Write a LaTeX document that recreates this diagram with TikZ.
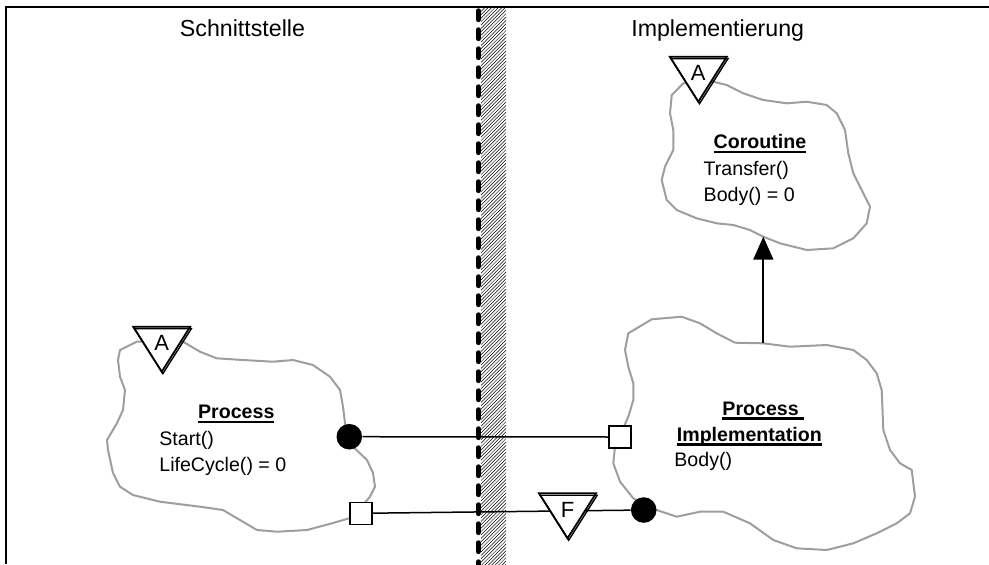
\documentclass[tikz,border=0pt]{standalone}
\usepackage{fontspec}
\setmainfont{Liberation Sans}
\usetikzlibrary{arrows.meta}

\definecolor{cloudgray}{gray}{0.62}
% bold class name with a heavy underline
\newcommand{\clsname}[1]{\setbox0\hbox{\bfseries #1}\rlap{\rule[-2.3pt]{\wd0}{1.1pt}}\box0}

\begin{document}
\begin{tikzpicture}
  [x=0.5pt,y=-0.5pt,
   sidetitle/.style={font=\fontsize{11.6}{14}\selectfont,inner sep=0pt,anchor=base},
   clsline/.style={font=\fontsize{9.8}{12}\selectfont,inner sep=0pt,anchor=base},
   opline/.style={font=\fontsize{9.8}{12}\selectfont,inner sep=0pt,anchor=base west},
   cloudedge/.style={draw=cloudgray,line width=1pt,line join=round},
   port/.style={draw,fill=white,line width=0.75pt,minimum size=11pt,inner sep=0pt},
   plug/.style={circle,fill=black,minimum size=12.8pt,inner sep=0pt},
   wire/.style={line width=0.75pt},
   tagedge/.style={line width=0.9pt,line join=miter},
   tagtext/.style={font=\fontsize{11}{13}\selectfont,inner sep=0pt}]
  \useasboundingbox (0,0) rectangle (989,564);

  % frame
  \draw[line width=1pt] (6,564) -- (6,7) -- (989,7);

  % divider: hatched band and dashed line
  \begin{scope}
    \clip (481,8) rectangle (506,564);
    \foreach \k in {0,...,175}
      \draw[line width=0.25pt] (481,8+\k*3.4) -- ++(25,-25);
  \end{scope}
  \draw[line width=2.75pt,line cap=round,dash pattern=on 4.2pt off 5.3pt] (478.3,11) -- (478.3,572);

  \node[sidetitle] (schnitt) at (242.5,36.7) {Schnittstelle};
  \node[sidetitle] (implem) at (717.7,36.7) {Implementierung};

  % clouds
  \draw[cloudedge] (136.7,341.7) -- (183,341.7) -- (200,351.7) -- (216.7,358.3) -- (243,360)
    -- (273,361.7) -- (293,360) -- (313,365) -- (330,376.7) -- (340,390) -- (343,406.7)
    -- (345,423) -- (353,446.7) -- (367,460) -- (373,473) -- (375,486.7) -- (370,496.7)
    -- (362,506) -- (350,518) -- (333,523) -- (307,530) -- (277,531.7) -- (257,530)
    -- (240,520) -- (223,510) -- (200,506.7) -- (160,501.7) -- (133,495) -- (120,486.7)
    -- (113,473) -- (108,450) -- (107,440) -- (117,423) -- (123,410) -- (125,390)
    -- (120,376.7) -- (118,360) -- (120,350) -- cycle;
  \draw[cloudedge] (651.7,319.3) -- (681.7,316.7) -- (700,323.3) -- (716.7,333.3) -- (735,342.7)
    -- (763.3,343.3) -- (790,346.7) -- (826.7,345) -- (853.3,350) -- (866.7,360) -- (876.7,373.3)
    -- (881.7,390) -- (883.3,430) -- (890,450) -- (900,463.3) -- (911.7,470) -- (915,496.7)
    -- (910,513.3) -- (896.7,523.3) -- (876.7,533.3) -- (853.3,543.3) -- (826.7,550)
    -- (796.7,548.3) -- (773.3,540) -- (750,523.3) -- (723.3,511.7) -- (700,511.7)
    -- (676.7,516.7) -- (656.7,510) -- (633.3,498.3) -- (620,481.7) -- (613.3,463.3)
    -- (615,446.7) -- (628.3,416.7) -- (633.3,400) -- (633.3,383.3) -- (628.3,366.7)
    -- (625,350) -- (628.3,333.3) -- cycle;
  \draw[cloudedge] (683.3,83.3) -- (671.7,95) -- (670,113.3) -- (673.3,130) -- (673.3,150)
    -- (665,166.7) -- (661.7,180) -- (666.7,200) -- (676.7,210) -- (696.7,218.3) -- (716.7,223.3)
    -- (733.3,225) -- (750,230) -- (763.3,236.7) -- (780,243.3) -- (806.7,250) -- (833.3,248.3)
    -- (853.3,238.3) -- (866.7,223.3) -- (870,206.7) -- (860,186.7) -- (853.3,173.3)
    -- (848.3,153.3) -- (845,130) -- (836.7,113.3) -- (826.7,105) -- (806.7,101.7)
    -- (786.7,103.3) -- (763.3,100) -- (743.3,93.3) -- (726.7,85) -- (713.3,81.7) -- cycle;

  % class texts
  \node[clsline] (procname) at (236.3,418.3) {\clsname{Process}};
  \node[opline] (procop1) at (159,445) {Start()};
  \node[opline] (procop2) at (159,471.7) {LifeCycle() = 0};
  \node[clsline] (implname1) at (763.3,415) {\clsname{Process }};
  \node[clsline] (implname2) at (749.3,441) {\clsname{Implementation}};
  \node[opline] (implop1) at (674,466.7) {Body()};
  \node[clsline] (corname) at (760,148.3) {\clsname{Coroutine}};
  \node[opline] (corop1) at (703.3,175) {Transfer()};
  \node[opline] (corop2) at (703.3,201.7) {Body() = 0};

  % ports and plugs
  \node[plug] (pplug) at (349.3,436.7) {};
  \node[port] (psq) at (361,513.3) {};
  \node[port] (isq) at (620,437) {};
  \node[plug] (iplug) at (643.7,510) {};
  \foreach \from/\to in {pplug/isq,psq/iplug}
    \draw[wire] (\from) -- (\to);

  % inheritance
  \coordinate (implTop) at (763.3,343.3);
  \coordinate (corBottom) at (763.3,236.7);
  \draw[wire,line width=0.9pt,-{Triangle[width=10pt,length=11.5pt]}] (implTop) -- (corBottom);

  % tags
  \foreach \nm/\x/\y/\ltr in {tagproc/161.7/326.7/A,tagcor/698.3/56.7/A,tagf/567.5/493.3/F} {
    \fill[white] (\x-28.5,\y) -- ++(57,0) -- ++(-28.5,45) -- cycle;
    \draw[tagedge,line width=0.7pt] (\x-27.3,\y+1.9) -- ++(57,0) -- ++(-28.5,45) -- cycle;
    \draw[tagedge] (\x-28.5,\y) -- ++(57,0) -- ++(-28.5,45) -- cycle;
    \node[tagtext] (\nm) at (\x,\y+16.5) {\ltr};
  }
\end{tikzpicture}
\end{document}
